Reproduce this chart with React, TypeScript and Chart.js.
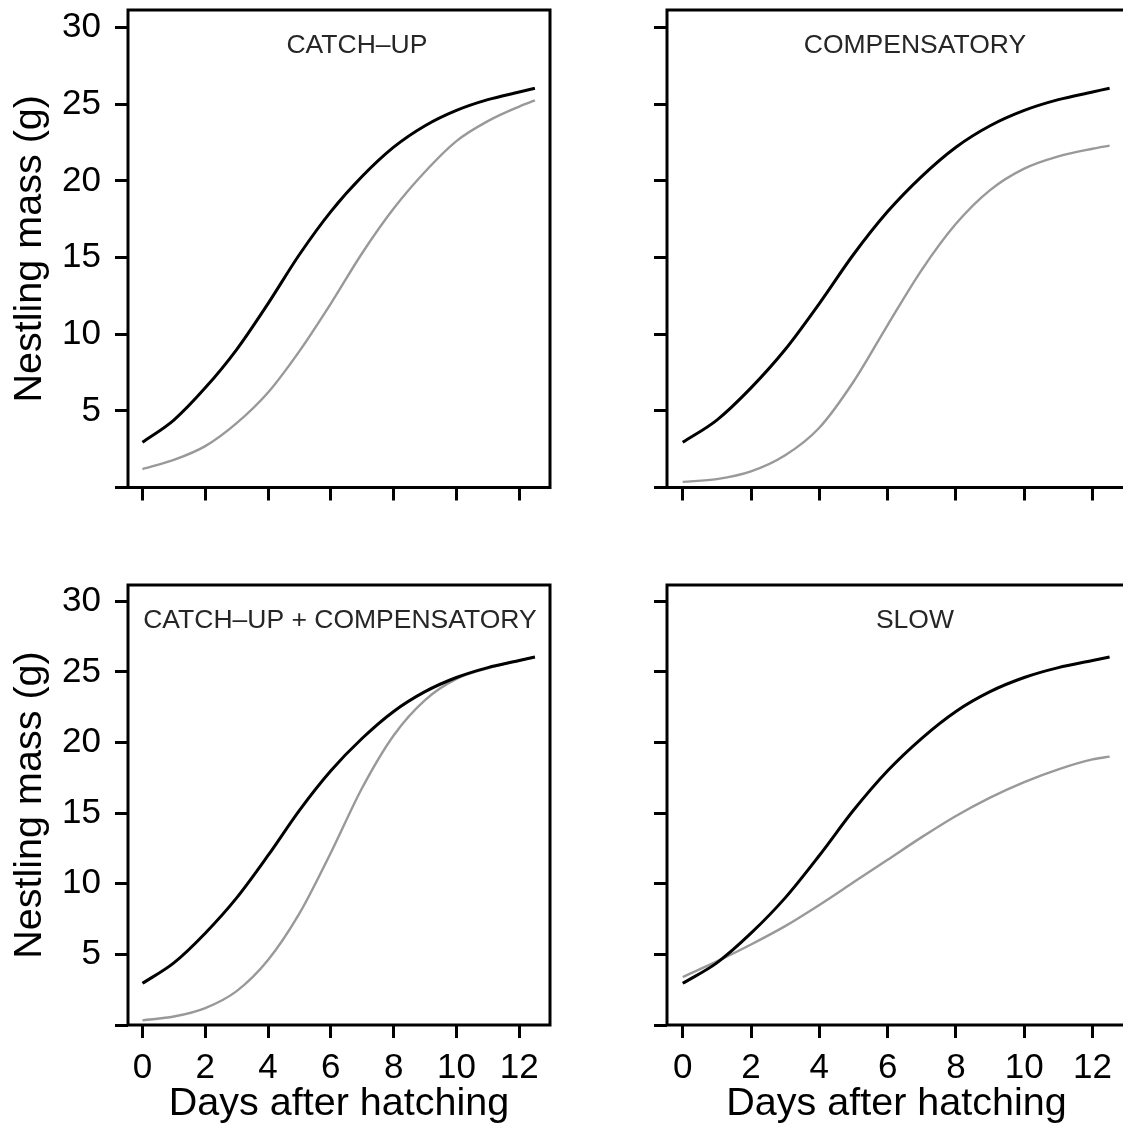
import React, { useEffect, useRef } from 'react';
import { Chart, registerables } from 'chart.js';

Chart.register(...registerables);

// ---- data ----
const days = [0, 1, 2, 3, 4, 5, 6, 7, 8, 9, 10, 11, 12, 12.5];
const controlMass = [2.95, 4.4, 6.5, 9.0, 12.0, 15.2, 18.0, 20.3, 22.2, 23.6, 24.6, 25.3, 25.8, 26.05];
const catchUpMass = [1.2, 1.8, 2.7, 4.2, 6.2, 8.9, 12.0, 15.3, 18.2, 20.6, 22.6, 23.9, 24.85, 25.25];
const compensatoryMass = [0.37, 0.55, 1.05, 2.1, 3.9, 6.9, 10.6, 14.2, 17.2, 19.4, 20.8, 21.6, 22.1, 22.3];
const catchUpCompMass = [0.33, 0.6, 1.2, 2.4, 4.6, 7.9, 12.2, 16.8, 20.5, 23.0, 24.5, 25.25, 25.8, 26.05];
const slowMass = [3.4, 4.5, 5.7, 7.0, 8.5, 10.1, 11.7, 13.3, 14.8, 16.1, 17.2, 18.1, 18.8, 19.0];

const xTicks = [0, 2, 4, 6, 8, 10, 12];
const yTicks = [0, 5, 10, 15, 20, 25, 30];
const hiddenYTickLabels = [0];

const panelLabels = ['CATCH–UP', 'COMPENSATORY', 'CATCH–UP + COMPENSATORY', 'SLOW'];
const xTitle = 'Days after hatching';
const yTitle = 'Nestling mass (g)';

const FONT = '"Liberation Sans", Arial, Helvetica, sans-serif';

type PanelSpec = {
  label: string;
  gray: number[];
  left: number;
  top: number;
  width: number;
  height: number;
  padTop: number;
  padRight: number;
  yAxisWidth: number;
  xAxisHeight: number;
  showY: boolean;
  showX: boolean;
  labelX: number;
  labelY: number;
  drawRight: boolean;
};

const panels: PanelSpec[] = [
  { label: panelLabels[0], gray: catchUpMass, left: 0, top: 0, width: 560, height: 540, padTop: 10, padRight: 10, yAxisWidth: 128, xAxisHeight: 52.5, showY: true, showX: false, labelX: 6.83, labelY: 28.85, drawRight: true },
  { label: panelLabels[1], gray: compensatoryMass, left: 600, top: 0, width: 540, height: 540, padTop: 10, padRight: 14, yAxisWidth: 67, xAxisHeight: 52.5, showY: false, showX: false, labelX: 6.8, labelY: 28.85, drawRight: false },
  { label: panelLabels[2], gray: catchUpCompMass, left: 0, top: 540, width: 560, height: 586, padTop: 45, padRight: 10, yAxisWidth: 128, xAxisHeight: 101, showY: true, showX: true, labelX: 6.29, labelY: 28.65, drawRight: true },
  { label: panelLabels[3], gray: slowMass, left: 600, top: 540, width: 540, height: 586, padTop: 45, padRight: 14, yAxisWidth: 67, xAxisHeight: 101, showY: false, showX: true, labelX: 6.8, labelY: 28.65, drawRight: false },
];

const boxPlugin = {
  id: 'panelBox',
  afterDraw(chart: any, _args: any, opts: any) {
    const { ctx, chartArea: a } = chart;
    ctx.save();
    ctx.strokeStyle = '#000';
    ctx.lineWidth = 3;
    ctx.lineJoin = 'miter';
    ctx.lineCap = 'square';
    ctx.beginPath();
    if (opts.drawRight) {
      ctx.rect(a.left, a.top, a.right - a.left, a.bottom - a.top);
    } else {
      ctx.moveTo(a.right + 2, a.top);
      ctx.lineTo(a.left, a.top);
      ctx.lineTo(a.left, a.bottom);
      ctx.lineTo(a.right + 2, a.bottom);
    }
    ctx.stroke();
    const x = chart.scales.x.getPixelForValue(opts.labelX);
    const y = chart.scales.y.getPixelForValue(opts.labelY);
    ctx.font = `26.5px ${FONT}`;
    ctx.fillStyle = '#262626';
    ctx.textAlign = 'center';
    ctx.textBaseline = 'middle';
    ctx.fillText(opts.text, x, y);
    ctx.restore();
  },
};

function Panel({ spec }: { spec: PanelSpec }) {
  const ref = useRef<HTMLCanvasElement>(null);
  useEffect(() => {
    const chart = new Chart(ref.current as HTMLCanvasElement, {
      type: 'line',
      data: {
        datasets: [
          {
            data: days.map((d, i) => ({ x: d, y: controlMass[i] })),
            borderColor: '#000000',
            borderWidth: 3,
            pointRadius: 0,
            fill: false,
            cubicInterpolationMode: 'monotone',
          },
          {
            data: days.map((d, i) => ({ x: d, y: spec.gray[i] })),
            borderColor: '#999999',
            borderWidth: 2.4,
            pointRadius: 0,
            fill: false,
            cubicInterpolationMode: 'monotone',
          },
        ],
      },
      options: {
        animation: false,
        responsive: false,
        maintainAspectRatio: false,
        events: [],
        layout: { padding: { top: spec.padTop, right: spec.padRight, left: 0, bottom: 0 } },
        plugins: {
          legend: { display: false },
          tooltip: { enabled: false },
          // @ts-ignore
          panelBox: { text: spec.label, labelX: spec.labelX, labelY: spec.labelY, drawRight: spec.drawRight },
        },
        scales: {
          x: {
            type: 'linear',
            min: -0.46,
            max: 12.98,
            afterBuildTicks: (s: any) => {
              s.ticks = xTicks.map((v) => ({ value: v }));
            },
            afterFit: (s: any) => {
              s.height = spec.xAxisHeight;
              s.paddingLeft = 0;
              s.paddingRight = 0;
            },
            grid: { drawOnChartArea: false, drawTicks: true, tickLength: 13, tickWidth: 3, tickColor: '#000' },
            border: { display: false },
            ticks: {
              autoSkip: false,
              maxRotation: 0,
              padding: 9,
              color: '#000',
              font: { family: FONT, size: 35 },
              callback: (v: any) => (spec.showX ? String(v) : ''),
            },
            title: {
              display: spec.showX,
              text: xTitle,
              color: '#000',
              font: { family: FONT, size: 39.5, lineHeight: 1 },
              padding: { top: 0, bottom: 2 },
            },
          },
          y: {
            type: 'linear',
            min: 0,
            max: 31.15,
            afterBuildTicks: (s: any) => {
              s.ticks = yTicks.map((v) => ({ value: v }));
            },
            afterFit: (s: any) => {
              s.width = spec.yAxisWidth;
              s.paddingTop = 0;
              s.paddingBottom = 0;
            },
            grid: { drawOnChartArea: false, drawTicks: true, tickLength: 13, tickWidth: 3, tickColor: '#000' },
            border: { display: false },
            ticks: {
              autoSkip: false,
              padding: 14,
              color: '#000',
              font: { family: FONT, size: 35 },
              callback: (v: any) => (spec.showY && !hiddenYTickLabels.includes(Number(v)) ? String(v) : ''),
            },
            title: {
              display: spec.showY,
              text: yTitle,
              color: '#000',
              font: { family: FONT, size: 39.5, lineHeight: 1 },
              padding: { top: 10, bottom: 0 },
            },
          },
        },
      } as any,
      plugins: [boxPlugin as any],
    });
    return () => chart.destroy();
  }, [spec]);
  return (
    <canvas
      ref={ref}
      width={spec.width}
      height={spec.height}
      style={{ position: 'absolute', left: spec.left, top: spec.top, width: spec.width, height: spec.height }}
    />
  );
}

export default function App() {
  return (
    <div
      style={{
        position: 'absolute',
        left: 0,
        top: 0,
        width: 1123,
        height: 1126,
        overflow: 'hidden',
        background: '#ffffff',
      }}
    >
      {panels.map((p, i) => (
        <Panel key={i} spec={p} />
      ))}
    </div>
  );
}
